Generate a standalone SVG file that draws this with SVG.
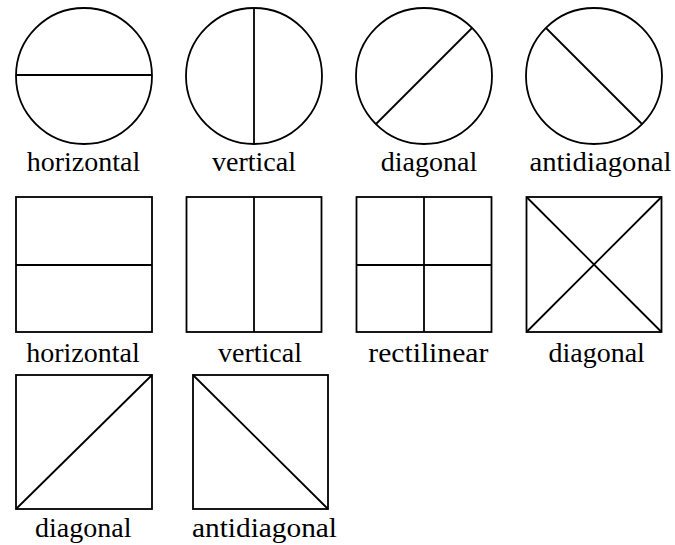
<svg xmlns="http://www.w3.org/2000/svg" width="675" height="545" viewBox="0 0 675 545">
<style>
.s{fill:none;stroke:#000;stroke-width:1.8}
</style>
<rect width="675" height="545" fill="#fff"/>
<g font-family="Liberation Serif, Times New Roman, Times, serif" font-size="28" fill="#000" text-anchor="middle">
<g id="c-horizontal"><circle class="s" cx="84" cy="76" r="68"/><line class="s" x1="16" y1="75" x2="152" y2="75"/><text x="83.5" y="171">horizontal</text></g>
<g id="c-vertical"><circle class="s" cx="254" cy="76" r="68"/><line class="s" x1="254" y1="8" x2="254" y2="144"/><text x="254" y="171">vertical</text></g>
<g id="c-diagonal"><circle class="s" cx="424" cy="76" r="68"/><line class="s" x1="376" y1="124" x2="472" y2="28"/><text x="429" y="171">diagonal</text></g>
<g id="c-antidiagonal"><circle class="s" cx="594" cy="76" r="68"/><line class="s" x1="546" y1="28" x2="642" y2="124"/><text x="600.5" y="171" textLength="142" lengthAdjust="spacingAndGlyphs">antidiagonal</text></g>
<g id="s-horizontal"><rect class="s" x="16" y="197" width="136" height="135"/><line class="s" x1="16" y1="265" x2="152" y2="265"/><text x="83" y="362">horizontal</text></g>
<g id="s-vertical"><rect class="s" x="186.5" y="197" width="135" height="135"/><line class="s" x1="254" y1="197" x2="254" y2="332"/><text x="260" y="362">vertical</text></g>
<g id="s-rectilinear"><rect class="s" x="356.5" y="197" width="135" height="135"/><line class="s" x1="424" y1="197" x2="424" y2="332"/><line class="s" x1="356.5" y1="265" x2="491.5" y2="265"/><text x="428.3" y="362" textLength="120" lengthAdjust="spacingAndGlyphs">rectilinear</text></g>
<g id="s-diagonal"><rect class="s" x="526.5" y="197" width="135" height="135"/><line class="s" x1="526.5" y1="332" x2="661.5" y2="197"/><line class="s" x1="526.5" y1="197" x2="661.5" y2="332"/><text x="596.7" y="362">diagonal</text></g>
<g id="s2-diagonal"><rect class="s" x="16" y="375" width="136" height="134"/><line class="s" x1="16" y1="509" x2="152" y2="375"/><text x="83.3" y="537">diagonal</text></g>
<g id="s2-antidiagonal"><rect class="s" x="193" y="375" width="135" height="134"/><line class="s" x1="193" y1="375" x2="328" y2="509"/><text x="264.5" y="537" textLength="145" lengthAdjust="spacingAndGlyphs">antidiagonal</text></g>
</g>
</svg>
